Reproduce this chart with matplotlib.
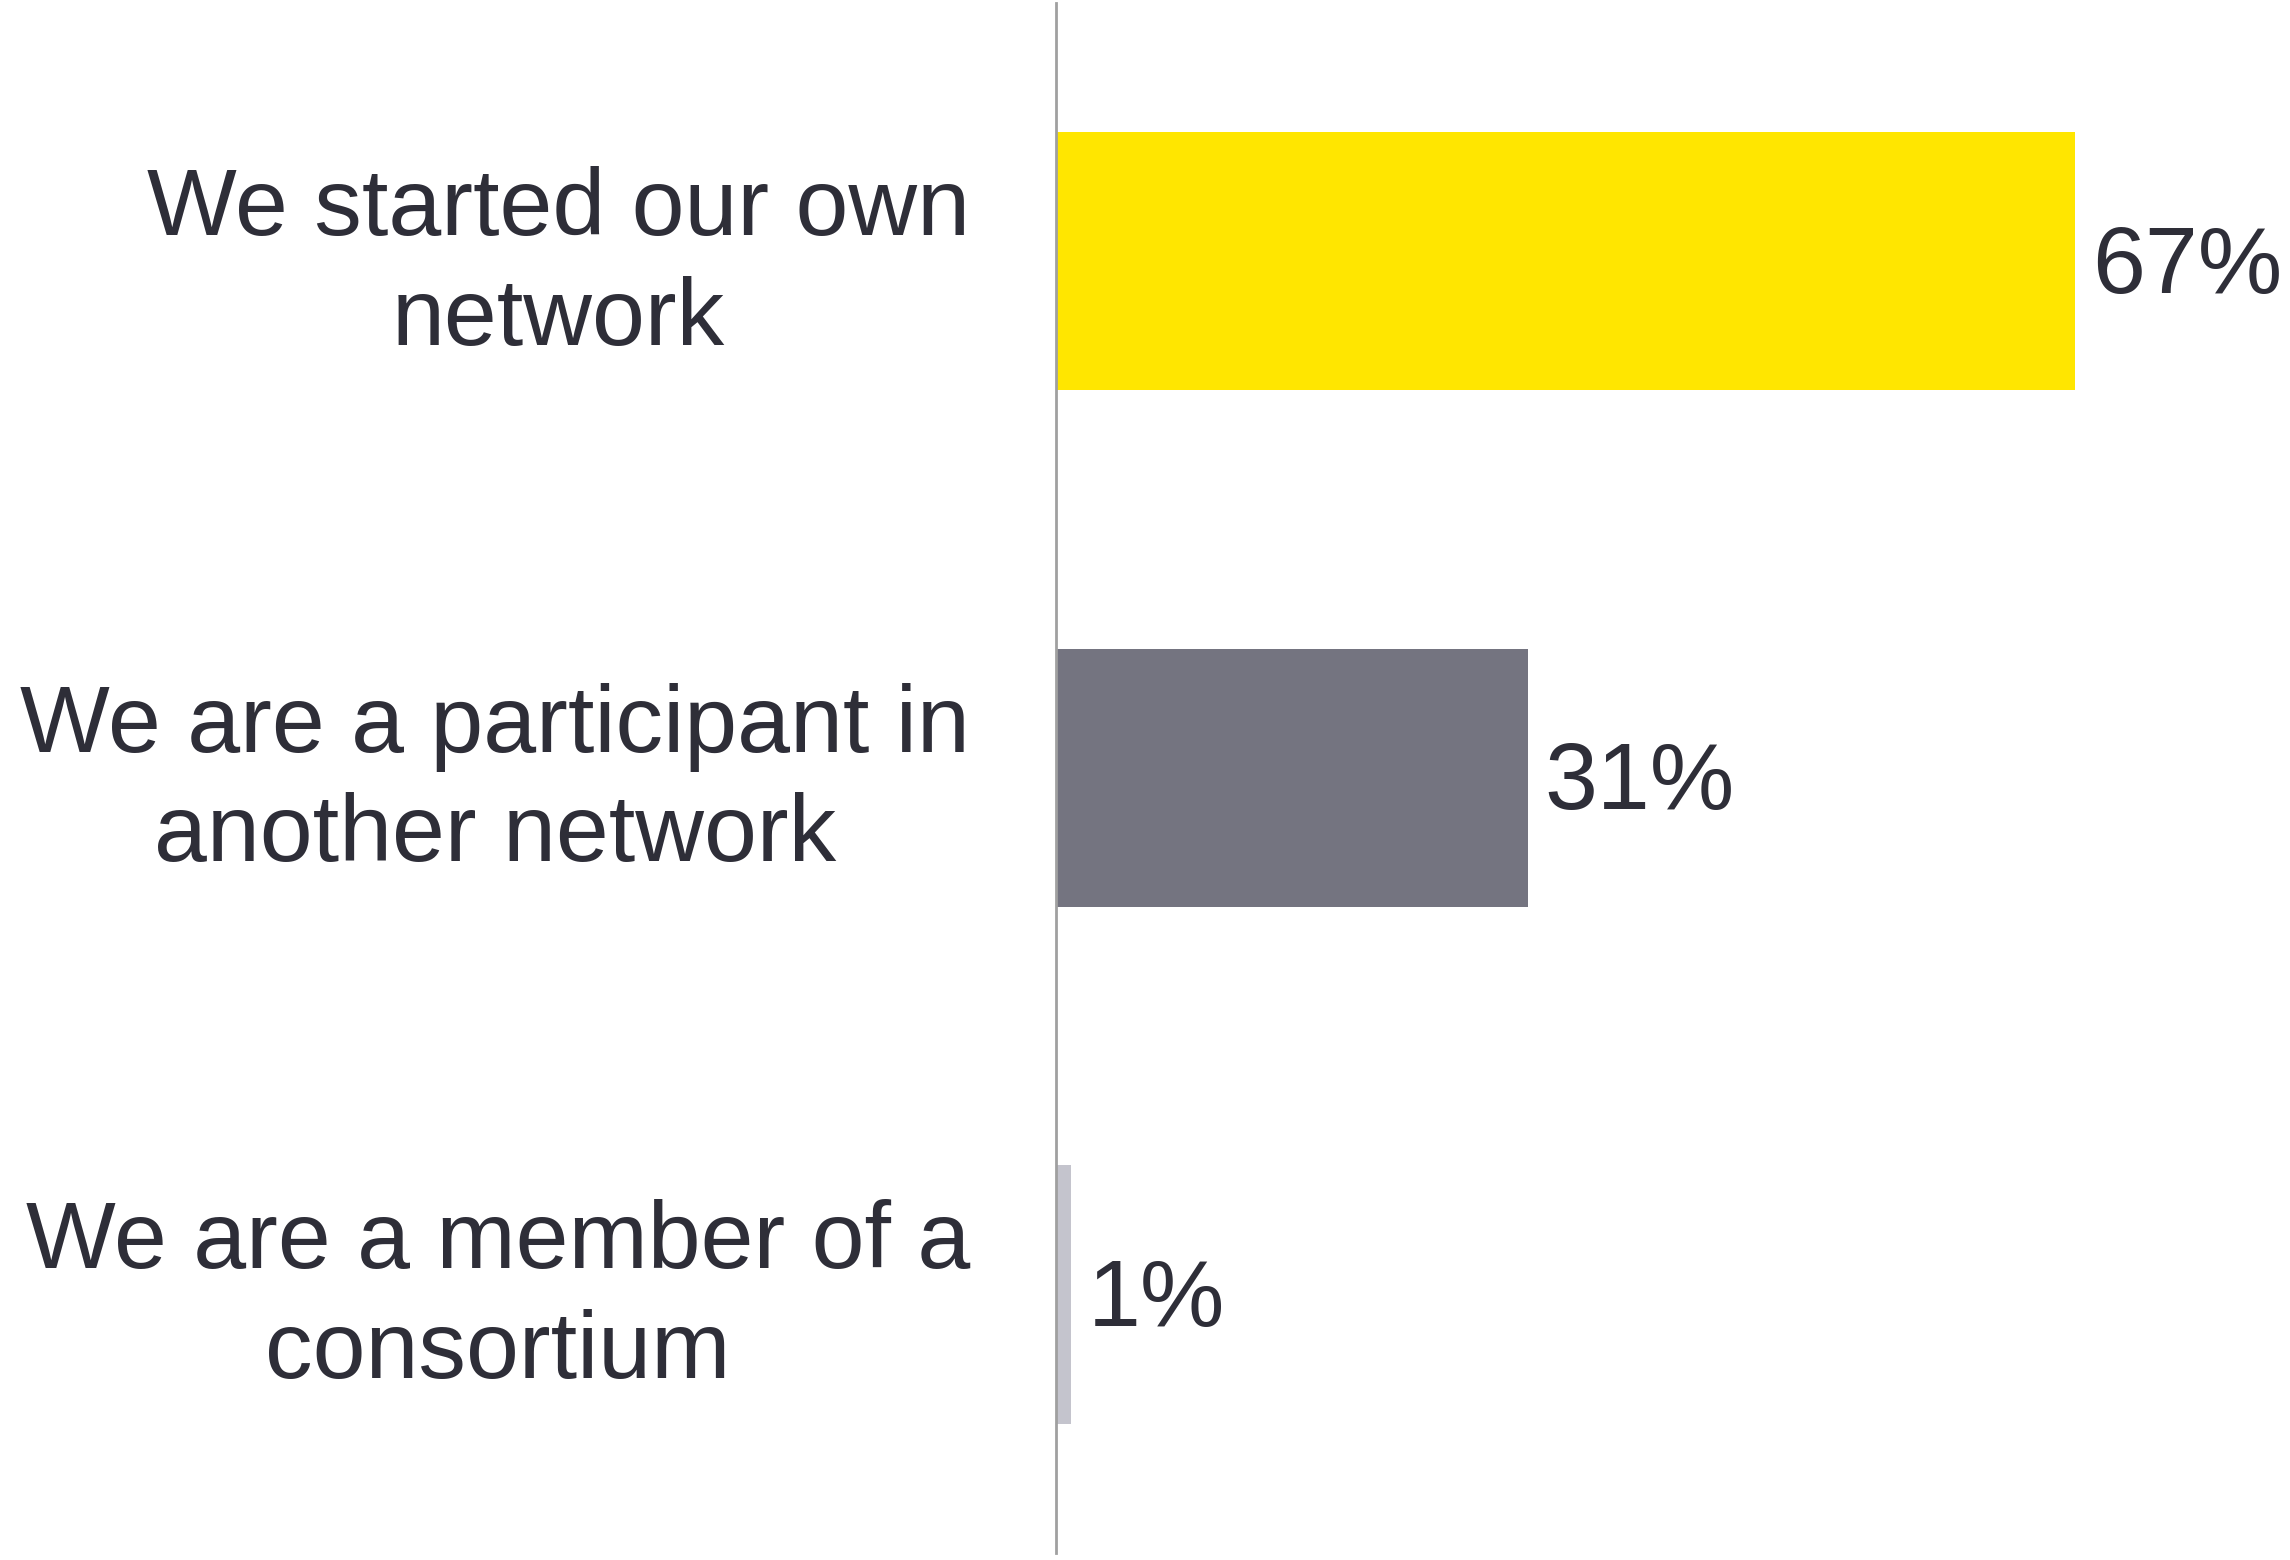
import matplotlib.pyplot as plt
from matplotlib.transforms import blended_transform_factory

plt.rcParams['font.family'] = ['Liberation Sans', 'DejaVu Sans']

labels = ['We started our own\nnetwork',
          'We are a participant in\nanother network',
          'We are a member of a\nconsortium']
values = [67, 31, 1]
colors = ['#FFE600', '#747480', '#C4C4CD']
text_color = '#2E2E38'

fig = plt.figure(figsize=(22.9, 15.6), dpi=100)
ax = fig.add_axes([0.4611, 0.0045, 0.5389, 0.9936])

pos = range(len(values))
ax.barh(pos, values, height=0.5, color=colors, zorder=2)
ax.set_ylim(2.5, -0.5)
ax.set_xlim(0, 81.1)

for y, v in zip(pos, values):
    ax.annotate(f'{v}%', (v, y), xytext=(12, -5), textcoords='offset points',
                ha='left', va='center', fontsize=68.5, color=text_color)

trans = blended_transform_factory(fig.transFigure, ax.transData)
for y, lab in zip(pos, labels):
    ax.annotate(lab, (970 / 2290, y), xycoords=trans, xytext=(0, -3),
                textcoords='offset points', ha='right', va='center',
                multialignment='center', fontsize=68.5, color=text_color,
                linespacing=1.3)

for s in ['top', 'right', 'bottom']:
    ax.spines[s].set_visible(False)
ax.spines['left'].set_color('#A0A0A0')
ax.spines['left'].set_linewidth(2)
ax.set_xticks([])
ax.set_yticks([])

fig.savefig('out.png', dpi=100)
